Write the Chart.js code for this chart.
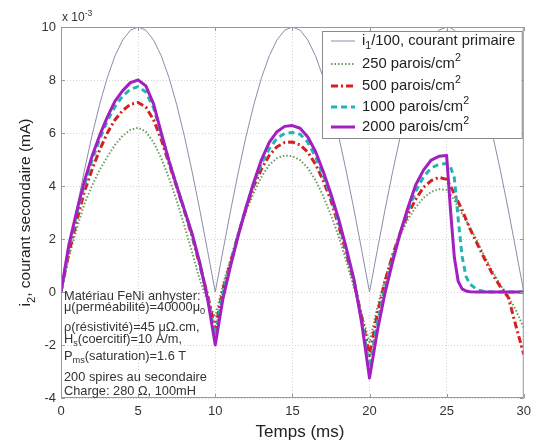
<!DOCTYPE html>
<html><head><meta charset="utf-8">
<script src="https://cdn.jsdelivr.net/npm/chart.js@4.4.0/dist/chart.umd.min.js"></script>
<style>html,body{margin:0;padding:0;background:#fff}#wrap{width:537px;height:443px}</style>
</head><body><div id="wrap"><canvas id="c" width="537" height="443"></canvas></div>
<script>
// ---- data ----
const timeMs = [0,0.5,1,1.5,2,2.5,3,3.5,4,4.5,5,5.5,6,6.5,7,7.5,8,8.5,9,9.5,10,
  10.5,11,11.5,12,12.5,13,13.5,14,14.5,15,15.5,16,16.5,17,17.5,18,18.5,19,19.5,20,
  20.5,21,21.5,22,22.5,23,23.5,24,24.5,25,25.25,25.5,25.75,26,26.25,26.5,27,27.5,28,28.5,29,29.5,30];
const primary = [0,1.56,3.09,4.54,5.88,7.07,8.09,8.91,9.51,9.88,10,9.88,9.51,8.91,8.09,7.07,5.88,4.54,3.09,1.56,0,
  1.56,3.09,4.54,5.88,7.07,8.09,8.91,9.51,9.88,10,9.88,9.51,8.91,8.09,7.07,5.88,4.54,3.09,1.56,0,
  1.56,3.09,4.54,5.88,7.07,8.09,8.91,9.51,9.88,10,9.97,9.88,9.72,9.51,9.24,8.91,8.09,7.07,5.88,4.54,3.09,1.56,0];
const s250 = [0,1.3,2.35,3.3,4.0,4.6,5.1,5.55,5.9,6.12,6.2,6.05,5.65,5.05,4.3,3.45,2.5,1.5,0.45,-0.35,-0.95,
  0.3,1.25,2.2,3.05,3.75,4.35,4.8,5.05,5.15,5.12,4.98,4.68,4.22,3.62,2.9,2.1,1.15,0.15,-0.85,-1.9,
  -0.6,0.5,1.4,2.15,2.75,3.2,3.55,3.78,3.88,3.85,3.7,3.45,3.2,2.95,2.7,2.45,1.9,1.3,0.75,0.25,-0.15,-0.7,-1.35];
const s500 = [0,1.45,2.65,3.75,4.6,5.35,6.0,6.5,6.85,7.08,7.15,6.98,6.5,5.75,4.85,3.95,3.05,2.1,1.0,-0.1,-1.4,
  0.1,1.15,2.2,3.15,4.0,4.65,5.15,5.48,5.64,5.66,5.55,5.28,4.82,4.2,3.45,2.5,1.45,0.35,-0.95,-2.4,
  -0.85,0.4,1.4,2.25,2.95,3.5,3.95,4.2,4.33,4.25,4.0,3.7,3.4,3.1,2.75,2.4,1.8,1.2,0.65,0.18,-0.2,-1.3,-2.35];
const s1000 = [0,1.65,2.9,4.0,4.95,5.75,6.45,7.0,7.4,7.65,7.75,7.55,6.95,5.95,4.95,4.0,3.1,2.15,1.05,-0.15,-1.65,
  -0.05,1.1,2.2,3.2,4.1,4.85,5.4,5.8,5.98,6.02,5.95,5.65,5.1,4.4,3.6,2.65,1.55,0.4,-1.05,-2.85,
  -1.2,0.15,1.25,2.25,3.1,3.8,4.35,4.68,4.82,4.85,4.72,4.3,2.75,1.35,0.6,0.3,0.08,0.01,0,0,0,0,0];
const s2000 = [0,1.75,3.0,4.15,5.1,5.9,6.6,7.2,7.6,7.9,8.0,7.78,7.1,6.0,4.95,4.0,3.1,2.2,1.1,-0.25,-2.0,
  -0.25,1.0,2.15,3.2,4.15,5.0,5.65,6.05,6.25,6.28,6.18,5.85,5.3,4.55,3.7,2.75,1.65,0.45,-1.2,-3.25,
  -1.5,-0.05,1.15,2.25,3.2,4.05,4.6,4.98,5.12,5.15,3.1,1.3,0.4,0.12,0.04,0.01,0,0,0,0,0,0,0];
const xTicks = [0,5,10,15,20,25,30];
const yTicks = [-4,-2,0,2,4,6,8,10];
const legendLabels = ['i_{1}/100, courant primaire','250 parois/cm^{2}','500 parois/cm^{2}','1000 parois/cm^{2}','2000 parois/cm^{2}'];
const noteLines = ['Matériau FeNi anhyster:','μ(perméabilité)=40000μ_{0}','ρ(résistivité)=45 μΩ.cm,','H_{s}(coercitif)=10 A/m,','P_{ms}(saturation)=1.6 T','200 spires au secondaire','Charge: 280 Ω, 100mH'];
const xTitle = 'Temps (ms)';
const yTitle = 'i_{2}, courant secondaire (mA)';
const expLabel = 'x 10^{-3}';

// ---- styles ----
const FONT = "'Liberation Sans', Arial, sans-serif";
const styles = [
  {color:'#8c8cab', width:1, dash:[]},
  {color:'#6b9e5e', width:2, dash:[1.5,2]},
  {color:'#d61f1f', width:3, dash:[7,3,2,3]},
  {color:'#22b5b5', width:3, dash:[6,4]},
  {color:'#a31fc0', width:3, dash:[]}
];
const seriesList = [primary, s250, s500, s1000, s2000];

function parseRich(str){
  const out=[]; const re=/(_\{[^}]*\}|\^\{[^}]*\})/g; let last=0, m;
  while((m=re.exec(str))){ if(m.index>last) out.push({t:str.slice(last,m.index),m:'n'});
    out.push({t:m[0].slice(2,-1), m: m[0][0]==='_'?'sub':'sup'}); last=re.lastIndex; }
  if(last<str.length) out.push({t:str.slice(last),m:'n'}); return out;
}
function richWidth(ctx, segs, size){
  let w=0; for(const s of segs){ ctx.font=(s.m==='n'?size:size*0.72)+'px '+FONT; w+=ctx.measureText(s.t).width; } return w;
}
function drawRich(ctx, str, x, y, size, align, color){
  const segs=parseRich(str); const w=richWidth(ctx,segs,size);
  let cx = align==='center'? x-w/2 : (align==='right'? x-w : x);
  ctx.fillStyle=color; ctx.textBaseline='middle'; ctx.textAlign='left';
  for(const s of segs){
    const sz = s.m==='n'?size:size*0.72; ctx.font=sz+'px '+FONT;
    const dy = s.m==='sub'? size*0.35 : (s.m==='sup'? -size*0.4 : 0);
    ctx.fillText(s.t, cx, y+dy); cx+=ctx.measureText(s.t).width;
  }
}

const decor = {
  id:'decor',
  afterDraw(chart){
    const ctx=chart.ctx, a=chart.chartArea, xs=chart.scales.x, ys=chart.scales.y;
    ctx.save();
    // frame
    ctx.strokeStyle='#999999'; ctx.lineWidth=1; ctx.setLineDash([]);
    ctx.strokeRect(a.left+0.5, a.top+0.5, a.right-a.left-1, a.bottom-a.top-1);
    // inner tick marks
    ctx.beginPath();
    for(const v of xTicks){ const px=Math.round(xs.getPixelForValue(v))+0.5;
      ctx.moveTo(px,a.bottom); ctx.lineTo(px,a.bottom-4); ctx.moveTo(px,a.top); ctx.lineTo(px,a.top+4); }
    for(const v of yTicks){ const py=Math.round(ys.getPixelForValue(v))+0.5;
      ctx.moveTo(a.left,py); ctx.lineTo(a.left+4,py); ctx.moveTo(a.right,py); ctx.lineTo(a.right-4,py); }
    ctx.stroke();
    // exponent
    drawRich(ctx, expLabel, a.left+1, 18, 12, 'left', '#333');
    // axis titles
    drawRich(ctx, xTitle, 300, 432, 17, 'center', '#222');
    ctx.save(); ctx.translate(26, (a.top+a.bottom)/2); ctx.rotate(-Math.PI/2);
    drawRich(ctx, yTitle, 0, 0, 15.5, 'center', '#222'); ctx.restore();
    // notes
    const noteY=[296,307,327,339,356,377,391];
    noteLines.forEach((l,i)=>drawRich(ctx,l,a.left+3,noteY[i],12.8,'left','#333'));
    // legend
    const lx=322, ly=31, lw=a.right-2-lx, lh=107;
    ctx.fillStyle='#fff'; ctx.fillRect(lx,ly,lw,lh);
    ctx.strokeStyle='#8a8a8a'; ctx.lineWidth=1; ctx.strokeRect(lx+0.5,ly+0.5,lw,lh);
    const rowY=[41,64,86,107,127];
    legendLabels.forEach((lab,i)=>{
      const st=styles[i];
      ctx.strokeStyle=st.color; ctx.lineWidth=st.width; ctx.setLineDash(st.dash);
      ctx.beginPath(); ctx.moveTo(331,rowY[i]); ctx.lineTo(355,rowY[i]); ctx.stroke();
      ctx.setLineDash([]);
      drawRich(ctx, lab, 362, rowY[i], 14.8, 'left', '#222');
    });
    ctx.restore();
  }
};

const datasets = seriesList.map((s,i)=>({
  data: timeMs.map((t,k)=>({x:t, y:s[k]})),
  showLine:true, pointRadius:0, tension:0, fill:false,
  borderColor:styles[i].color, borderWidth:styles[i].width, borderDash:styles[i].dash,
  borderJoinStyle:'round', order: 4-i
}));

new Chart(document.getElementById('c'), {
  type:'scatter',
  data:{datasets},
  options:{
    responsive:false, animation:false, devicePixelRatio:1,
    layout:{padding:{left:0,right:3,top:27,bottom:0}},
    plugins:{legend:{display:false}, tooltip:{enabled:false}},
    scales:{
      x:{type:'linear', min:0, max:30,
        afterFit:s=>{s.height=45;},
        afterBuildTicks:s=>{s.ticks=xTicks.map(v=>({value:v}));},
        ticks:{font:{family:FONT,size:13}, color:'#333', padding:6, maxRotation:0, autoSkip:false},
        grid:{color:'#d4d4d4', drawTicks:false, lineWidth:1},
        border:{display:false, dash:[1,2]}},
      y:{type:'linear', min:-4, max:10,
        afterFit:s=>{s.width=61;},
        afterBuildTicks:s=>{s.ticks=yTicks.map(v=>({value:v}));},
        ticks:{font:{family:FONT,size:13}, color:'#333', padding:5, autoSkip:false},
        grid:{color:'#d4d4d4', drawTicks:false, lineWidth:1},
        border:{display:false, dash:[1,2]}}
    }
  },
  plugins:[decor]
});
</script></body></html>
